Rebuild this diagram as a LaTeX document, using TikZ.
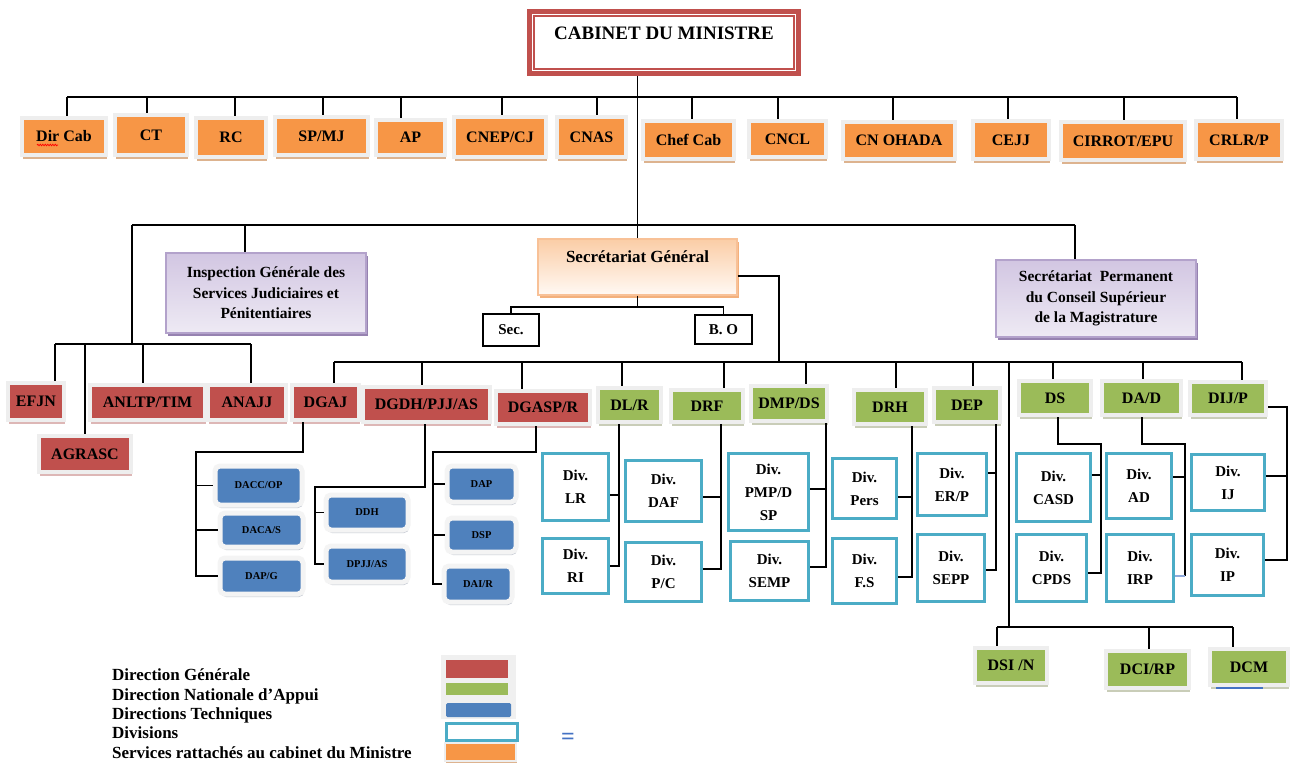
\documentclass[tikz,border=0pt]{standalone}
\usepackage{fontspec}
\setmainfont{Liberation Serif}
\usetikzlibrary{shadows,decorations.pathmorphing}
\definecolor{orgF}{HTML}{F79646}
\definecolor{orgS}{HTML}{DDB38F}
\definecolor{frameC}{HTML}{EEEEEE}
\definecolor{redF}{HTML}{C0504D}
\definecolor{redS}{HTML}{DDB7B6}
\definecolor{grnF}{HTML}{9BBB59}
\definecolor{grnS}{HTML}{C9CDB8}
\definecolor{bluF}{HTML}{4F81BD}
\definecolor{bluFr}{HTML}{F4F4F4}
\definecolor{bluS}{HTML}{C5CAD3}
\definecolor{cyanD}{HTML}{4BACC6}
\definecolor{igsT}{HTML}{D2C6E2}
\definecolor{igsBot}{HTML}{EEEAF4}
\definecolor{igsB}{HTML}{B3A2CB}
\definecolor{igsS}{HTML}{9682B0}
\definecolor{sgT}{HTML}{FBCDA6}
\definecolor{sgBot}{HTML}{FFF9F4}
\definecolor{sgB}{HTML}{F8C197}
\definecolor{sgS}{HTML}{F3B07C}
\definecolor{eqBlue}{HTML}{4472C4}
\definecolor{irpBlue}{HTML}{8FAADC}
\definecolor{panelC}{HTML}{F0F0F0}

\newcommand\mkbox[7]{\node[#1, minimum width={#5-#3+4}, minimum height={#6-#4+4}] (#2) at ({(#3+#5)/2},{(#4+#6)/2}) {#7};}
\newcommand\mkdiv[6]{\node[dvx, minimum width={#4-#2-3}, minimum height={#5-#3-3}] (#1) at ({(#2+#4)/2},{(#3+#5)/2}) {#6};}

\tikzset{
  conn/.style={line width=1.3pt, draw=black},
  fr/.style={rectangle, draw=frameC, line width=4pt, inner sep=1pt, align=center, text=black,
    font=\bfseries\fontsize{16}{18}\selectfont},
  obx/.style={fr, fill=orgF, drop shadow={shadow xshift=1pt, shadow yshift=-4pt, fill=orgS, opacity=1}},
  rbx/.style={fr, fill=redF, drop shadow={shadow xshift=1pt, shadow yshift=-4pt, fill=redS, opacity=1}},
  gbx/.style={fr, fill=grnF, drop shadow={shadow xshift=1pt, shadow yshift=-4pt, fill=grnS, opacity=1}},
  tbx/.style={fr, fill=bluF, draw=bluFr, line width=5pt, rounded corners=5pt,
    font=\bfseries\fontsize{10.5}{12}\selectfont,
    drop shadow={shadow xshift=1pt, shadow yshift=-3pt, fill=bluS, opacity=1}},
  dvx/.style={rectangle, draw=cyanD, line width=3pt, fill=white, align=center, inner sep=1pt,
    font=\bfseries\fontsize{15}{23}\selectfont},
  cabx/.style={rectangle, draw=redF, line width=5pt, fill=white, inner sep=1pt,
    font=\bfseries\fontsize{19}{22}\selectfont},
  igsx/.style={rectangle, draw=igsB, line width=1.2pt, top color=igsT, bottom color=igsBot,
    align=center, inner sep=1pt, font=\bfseries\fontsize{15.5}{20.5}\selectfont,
    drop shadow={shadow xshift=2pt, shadow yshift=-3pt, fill=igsS, opacity=1}},
  sgx/.style={rectangle, draw=sgB, line width=1.2pt, top color=sgT, bottom color=sgBot,
    align=center, inner sep=1pt, font=\bfseries\fontsize{17}{20}\selectfont,
    drop shadow={shadow xshift=2pt, shadow yshift=-3pt, fill=sgS, opacity=1}},
  plainx/.style={rectangle, draw=black, line width=1.3pt, fill=white, inner sep=1pt,
    font=\bfseries\fontsize{15}{17}\selectfont},
  legx/.style={anchor=base west, inner sep=0pt, font=\bfseries\fontsize{17}{19}\selectfont}
}

\begin{document}
\begin{tikzpicture}[x=1pt, y=-1pt]
\fill[white] (0,0) rectangle (1292,767);
\useasboundingbox (0,0) rectangle (1292,767);

% Cabinet
\node[cabx, minimum width=269, minimum height=62] (cab) at (664,42.5) {\raisebox{19pt}{CABINET DU MINISTRE}};
\draw[redF, line width=1.2pt] ([shift={(7,7)}]cab.north west) rectangle ([shift={(-7,-7)}]cab.south east);

% Services rattaches (orange)
\mkbox{obx}{dircab}{24}{120}{104}{153}{Dir Cab}
\mkbox{obx}{ct}{117}{117}{185}{153}{CT}
\mkbox{obx}{rc}{198}{120}{264}{155}{RC}
\mkbox{obx}{spmj}{277}{119}{366}{153}{SP/MJ}
\mkbox{obx}{ap}{378}{122}{443}{153}{AP}
\mkbox{obx}{cnep}{456}{119}{544}{155}{CNEP/CJ}
\mkbox{obx}{cnas}{559}{119}{624}{155}{CNAS}
\mkbox{obx}{chefcab}{645}{123}{732}{157}{Chef Cab}
\mkbox{obx}{cncl}{751}{123}{824}{155}{CNCL}
\mkbox{obx}{cnohada}{845}{124}{953}{157}{CN OHADA}
\mkbox{obx}{cejj}{975}{123}{1047}{157}{CEJJ}
\mkbox{obx}{cirrot}{1063}{124}{1183}{158}{CIRROT/EPU}
\mkbox{obx}{crlr}{1198}{123}{1280}{157}{CRLR/P}
\draw[red, line width=0.8pt, decorate, decoration={snake, amplitude=0.7pt, segment length=2.5pt}] (37,145) -- (58,145);

% Secretariats and inspection
\node[sgx, minimum width=199, minimum height=56] (sg) at (637.5,267) {\raisebox{20pt}{Secrétariat Général}};
\node[igsx, minimum width=200, minimum height=80] (igs) at (266,293) {Inspection Générale des\\Services Judiciaires et\\Pénitentiaires};
\node[igsx, minimum width=200, minimum height=77] (spcsm) at (1096,298.5) {Secrétariat~~Permanent\\du Conseil Supérieur\\de la Magistrature};
\node[plainx, minimum width=56, minimum height=32] (sec) at (511,330) {Sec.};
\node[plainx, minimum width=57, minimum height=29] (bo) at (723.5,329.5) {B. O};

% Directions generales (red)
\mkbox{rbx}{efjn}{10}{385}{62}{418}{EFJN}
\mkbox{rbx}{anltp}{92}{387}{203}{418}{ANLTP/TIM}
\mkbox{rbx}{anajj}{210}{387}{284}{418}{ANAJJ}
\mkbox{rbx}{dgaj}{294}{387}{357}{418}{DGAJ}
\mkbox{rbx}{dgdh}{365}{389}{488}{420}{DGDH/PJJ/AS}
\mkbox{rbx}{dgasp}{498}{393}{588}{422}{DGASP/R}
\mkbox{rbx}{agrasc}{41}{438}{129}{470}{AGRASC}

% Directions nationales d'appui (green)
\mkbox{gbx}{dlr}{600}{390}{659}{420}{DL/R}
\mkbox{gbx}{drf}{673}{392}{741}{420}{DRF}
\mkbox{gbx}{dmp}{753}{388}{825}{419}{DMP/DS}
\mkbox{gbx}{drh}{856}{392}{924}{422}{DRH}
\mkbox{gbx}{dep}{936}{390}{998}{420}{DEP}
\mkbox{gbx}{ds}{1021}{383}{1089}{413}{DS}
\mkbox{gbx}{dad}{1104}{383}{1179}{413}{DA/D}
\mkbox{gbx}{dijp}{1192}{384}{1264}{413}{DIJ/P}
\mkbox{gbx}{dsi}{977}{650}{1045}{681}{DSI /N}
\mkbox{gbx}{dci}{1108}{653}{1187}{686}{DCI/RP}
\mkbox{gbx}{dcm}{1212}{651}{1286}{683}{DCM}
\draw[eqBlue, line width=1.5pt] (1216,688) -- (1263,688);

% Directions techniques (blue)
\mkbox{tbx}{dacc}{217}{468}{300}{503}{DACC/OP}
\mkbox{tbx}{dacas}{222}{515}{301}{545}{DACA/S}
\mkbox{tbx}{dapg}{222}{560}{301}{592}{DAP/G}
\mkbox{tbx}{ddh}{328}{497}{406}{528}{DDH}
\mkbox{tbx}{dpjj}{328}{548}{406}{580}{DPJJ/AS}
\mkbox{tbx}{dap}{449}{468}{514}{500}{DAP}
\mkbox{tbx}{dsp}{449}{520}{514}{550}{DSP}
\mkbox{tbx}{dair}{446}{568}{510}{600}{DAI/R}

% Divisions
\mkdiv{lr}{541}{452}{610}{522}{Div.\\LR}
\mkdiv{ri}{541}{537}{610}{595}{Div.\\RI}
\mkdiv{daf}{624}{459}{703}{523}{Div.\\DAF}
\mkdiv{pc}{624}{541}{703}{603}{Div.\\P/C}
\mkdiv{pmp}{727}{452}{810}{532}{Div.\\PMP/D\\SP}
\mkdiv{semp}{729}{540}{810}{602}{Div.\\SEMP}
\mkdiv{pers}{831}{457}{898}{520}{Div.\\Pers}
\mkdiv{fs}{831}{537}{898}{605}{Div.\\F.S}
\mkdiv{erp}{916}{452}{988}{517}{Div.\\ER/P}
\mkdiv{sepp}{916}{533}{986}{603}{Div.\\SEPP}
\mkdiv{casd}{1015}{452}{1092}{523}{Div.\\CASD}
\mkdiv{cpds}{1015}{533}{1088}{603}{Div.\\CPDS}
\mkdiv{ad}{1105}{452}{1173}{520}{Div.\\AD}
\mkdiv{irp}{1105}{533}{1175}{603}{Div.\\IRP}
\mkdiv{ij}{1190}{453}{1266}{512}{Div.\\IJ}
\mkdiv{ip}{1190}{533}{1265}{597}{Div.\\IP}

% ---------- connectors ----------
% top bus
\coordinate (tbL) at (67,97);
\coordinate (tbR) at (1237,97);
\draw[conn] (tbL) -- (tbR);
\foreach \n/\x in {dircab/67,ct/147,rc/235,spmj/323,ap/401,cnep/502,cnas/597,chefcab/692,cncl/778,cnohada/893,cejj/1008,cirrot/1124,crlr/1237}
  \draw[conn] (\x,97) -- (\x,97 |- \n.north);
\draw[conn] (cab.south -| sg.north) -- (sg.north);

% second bus
\coordinate (hbL) at (132,225);
\coordinate (hbR) at (1075,225);
\draw[conn] (hbL) -- (hbR);
\draw[conn] (245,225) -- (245,225 |- igs.north);
\draw[conn] (hbR) -- (hbR |- spcsm.north);

% left bus
\coordinate (lbL) at (55,344);
\coordinate (lbR) at (251,344);
\draw[conn] (hbL) -- (132,344);
\draw[conn] (lbL) -- (lbR);
\foreach \n/\x in {efjn/55,anltp/143,anajj/251,agrasc/85}
  \draw[conn] (\x,344) -- (\x,344 |- \n.north);

% SG to Sec and B.O
\draw[conn] (sg.south) -- (sg.south |- 0,307);
\draw[conn] (sec.north) -- (sec.north |- 0,307) -- (bo.north |- 0,307) -- (bo.north);

% SG to main bus
\coordinate (mbL) at (334,362);
\coordinate (mbR) at (1242,362);
\draw[conn] (sg.east |- 0,276) -- (779,276) -- (779,362);
\draw[conn] (mbL) -- (mbR);
\foreach \n/\x in {dgaj/334,dgdh/422,dgasp/522,dlr/622,drf/724,dmp/806,drh/896,dep/973,ds/1053,dad/1143,dijp/1242}
  \draw[conn] (\x,362) -- (\x,362 |- \n.north);

% long vertical to the bottom group
\coordinate (bbL) at (997,627);
\coordinate (bbR) at (1233,627);
\draw[conn] (1009,362) -- (1009,627);
\draw[conn] (bbL) -- (bbR);
\foreach \n/\x in {dsi/997,dci/1149,dcm/1233}
  \draw[conn] (\x,627) -- (\x,627 |- \n.north);

% DGAJ techniques
\draw[conn] (303,0 |- dgaj.south) -- (303,452) -- (196,452) -- (196,0 |- dapg.west) -- (dapg.west);
\draw[conn] (196,0 |- dacc.west) -- (dacc.west);
\draw[conn] (196,0 |- dacas.west) -- (dacas.west);
% DGDH techniques
\draw[conn] (425,0 |- dgdh.south) -- (425,487) -- (315,487) -- (315,0 |- dpjj.west) -- (dpjj.west);
\draw[conn] (315,0 |- ddh.west) -- (ddh.west);
% DGASP techniques
\draw[conn] (536,0 |- dgasp.south) -- (536,452) -- (433,452) -- (433,0 |- dair.west) -- (dair.west);
\draw[conn] (433,0 |- dap.west) -- (dap.west);
\draw[conn] (433,0 |- dsp.west) -- (dsp.west);

% divisions
\draw[conn] (619,0 |- dlr.south) -- (619,566) -- (ri.east |- 0,566);
\draw[conn] (lr.east |- 0,495) -- (619,495);
\draw[conn] (721,0 |- drf.south) -- (721,569) -- (pc.east |- 0,569);
\draw[conn] (daf.east |- 0,497) -- (721,497);
\draw[conn] (826,0 |- dmp.south) -- (826,567) -- (semp.east |- 0,567);
\draw[conn] (pmp.east |- 0,489) -- (826,489);
\draw[conn] (912,0 |- drh.south) -- (912,577) -- (fs.east |- 0,577);
\draw[conn] (pers.east |- 0,497) -- (912,497);
\draw[conn] (996,0 |- dep.south) -- (996,570) -- (sepp.east |- 0,570);
\draw[conn] (erp.east |- 0,473) -- (996,473);
\draw[conn] (1058,0 |- ds.south) -- (1058,444) -- (1101,444) -- (1101,573) -- (cpds.east |- 0,573);
\draw[conn] (casd.east |- 0,475) -- (1101,475);
\draw[conn] (1142,0 |- dad.south) -- (1142,444) -- (1185,444) -- (1185,576);
\draw[conn] (ad.east |- 0,477) -- (1185,477);
\draw[line width=1.3pt, irpBlue] (irp.east |- 0,576) -- (1185,576);
\draw[conn] (dijp.east |- 0,407) -- (1287,407) -- (1287,560) -- (ip.east |- 0,560);
\draw[conn] (ij.east |- 0,476) -- (1287,476);

% ---------- legend ----------
\node[legx] (lg1) at (112,680) {Direction Générale};
\node[legx] (lg2) at (112,700) {Direction Nationale d’Appui};
\node[legx] (lg3) at (112,719) {Directions Techniques};
\node[legx] (lg4) at (112,738) {Divisions};
\node[legx] (lg5) at (112,758) {Services rattachés au cabinet du Ministre};
\node[fill=panelC, minimum width=75, minimum height=64, inner sep=0pt] (legpanel) at (478.5,687) {};
\node[fill=redF, minimum width=62, minimum height=18, inner sep=0pt] (sw1) at (477,669) {};
\node[fill=grnF, minimum width=62, minimum height=12, inner sep=0pt] (sw2) at (477,689) {};
\node[fill=bluF, rounded corners=1.5pt, minimum width=65, minimum height=14, inner sep=0pt] (sw3) at (478.5,710) {};
\node[draw=cyanD, line width=3pt, fill=white, minimum width=71, minimum height=17, inner sep=0pt] (sw4) at (482,732) {};
\node[fill=orgF, draw=frameC, line width=2pt, minimum width=71, minimum height=18, inner sep=0pt,
  drop shadow={shadow xshift=1pt, shadow yshift=-2pt, fill=orgS, opacity=1}] (sw5) at (480.5,752) {};
\node[text=eqBlue, inner sep=0pt, font=\bfseries\fontsize{24}{24}\selectfont] (eq) at (568,739) {=};
\end{tikzpicture}
\end{document}
